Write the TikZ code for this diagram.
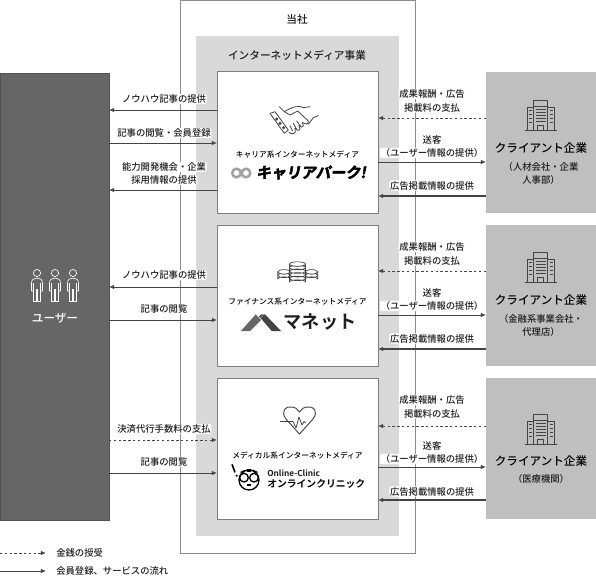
\documentclass[tikz,border=0pt]{standalone}
\usepackage{fontspec}
\setmainfont{Noto Sans CJK JP Medium}[BoldFont=Noto Sans CJK JP Bold]
\newfontfamily\logofont[FakeSlant=0.18,FakeBold=3]{Noto Sans CJK JP Bold}
\newfontfamily\logoplain{Noto Sans CJK JP Bold}
\usetikzlibrary{arrows.meta,calc}
\definecolor{uc}{HTML}{666666}
\definecolor{mc}{HTML}{D9D9D9}
\definecolor{cc}{HTML}{BFBFBF}
\definecolor{lc}{HTML}{444444}
\definecolor{tc}{HTML}{1F1F1F}
\tikzset{
  x=0.75pt,y=-0.75pt,
  box/.style={inner sep=0pt,outer sep=0pt},
  flow/.style={draw=lc,line width=0.7pt,-{Latex[length=3.8pt,width=3.4pt]}},
  money/.style={flow,dash pattern=on 1.8pt off 1.8pt},
  lab/.style={font=\fontsize{7}{9.8}\selectfont,text=tc,fill=white,inner sep=0.5pt,rounded corners=1.5pt,align=center},
  plain/.style={font=\fontsize{7}{9.8}\selectfont,text=tc,inner sep=0pt,align=center},
  ctitle/.style={font=\fontsize{8.7}{11}\selectfont,text=black,inner sep=0pt},
  mtitle/.style={font=\fontsize{5.8}{7}\selectfont,text=black,inner sep=0pt},
  ico/.style={draw=lc,line width=0.6pt,line join=round},
  pics/person/.style={code={
    \draw[white,line width=0.5pt,line join=round] (0,0) circle (3.6);
    \draw[white,line width=0.5pt,line join=round] (-3.8,18)--(-5.5,18)--(-5.5,10) .. controls (-5.5,6.5) and (-3,5) .. (0,5) .. controls (3,5) and (5.5,6.5) .. (5.5,10) -- (5.5,18) -- (3.8,18);
    \draw[white,line width=0.5pt,line join=round] (-3.8,10)--(-3.8,28)--(-0.8,28)--(-0.8,16) (0.8,16)--(0.8,28)--(3.8,28)--(3.8,10);
  }},
  pics/tower/.style={code={
    \draw[ico,line width=0.7pt] (-16,15)--(16,15);
    \draw[ico] (-7,15)--(-7,-15)--(7,-15)--(7,15);
    \draw[ico] (-7,-9)--(7,-9);
    \foreach \yy in {-6,-3,0,3,6} \draw[ico,line width=0.45pt] (-5,\yy)--(5,\yy);
    \draw[ico] (-3,15)--(-3,10)--(3,10)--(3,15);
    \draw[ico] (-7,-8)--(-13.5,-8)--(-13.5,15) (7,-8)--(14,-8)--(14,15);
    \foreach \yy in {-5,-1,3,7} {\draw[ico,line width=0.45pt] (-12,\yy)--(-9,\yy); \draw[ico,line width=0.45pt] (9,\yy)--(12,\yy);}
  }}
}
\newcommand{\coinstack}[4]{% x, bottom y, half width, count
  \foreach \k in {1,...,#4} {
    \draw[ico,fill=white,line width=0.5pt] ({#1-#3},{#2-(\k-1)*3.6}) -- ({#1-#3},{#2-\k*3.6}) arc[start angle=180,end angle=0,x radius=#3,y radius=2.2] -- ({#1+#3},{#2-(\k-1)*3.6}) arc[start angle=0,end angle=-180,x radius=#3,y radius=2.2] -- cycle;
  }
  \draw[ico,fill=white,line width=0.5pt] (#1,{#2-#4*3.6}) ellipse[x radius=#3,y radius=2.2];
}
\begin{document}
\begin{tikzpicture}
\useasboundingbox (0,0) rectangle (596,576);
% frames
\path[draw=uc!75,fill=white,line width=0.7pt] (180,0) coordinate (fa) rectangle (415,553) coordinate (fb);
\node[box,fill=mc,minimum width=203*0.75pt,minimum height=500*0.75pt,anchor=north west] (m) at (196,36) {};
\node[plain,font=\fontsize{8}{10}\selectfont] (tosha) at (297,19) {当社};
\node[plain,font=\fontsize{8}{10}\selectfont] (jigyo) at (297,55) {インターネットメディア事業};
% main boxes
\tikzset{wbox/.style={box,draw=uc!85,fill=white,line width=0.7pt,minimum width=161*0.75pt,minimum height=142*0.75pt,anchor=north west},
 cbox/.style={box,fill=cc,minimum width=110*0.75pt,minimum height=141*0.75pt,anchor=north west}}
\node[box,fill=uc,draw=uc!80!black,line width=0.3pt,minimum width=109*0.75pt,minimum height=447*0.75pt,anchor=north west] (u) at (0,73) {};
\node[wbox] (w1) at (217,71) {};
\node[wbox,minimum height=141*0.75pt] (w2) at (217,225) {};
\node[wbox,minimum height=141*0.75pt] (w3) at (217,378) {};
\node[cbox] (c1) at (486,72) {};
\node[cbox] (c2) at (486,225) {};
\node[cbox] (c3) at (486,378) {};
% left arrows
\draw[flow] (w1.west |- 0,110) -- (u.east |- 0,110);
\draw[flow] (u.east |- 0,143) -- (w1.west |- 0,143);
\draw[flow] (w1.west |- 0,190) -- (u.east |- 0,190);
\draw[flow] (w2.west |- 0,287) -- (u.east |- 0,287);
\draw[flow] (u.east |- 0,320) -- (w2.west |- 0,320);
\draw[money] (u.east |- 0,440) -- (w3.west |- 0,440);
\draw[flow] (u.east |- 0,473) -- (w3.west |- 0,473);
% right arrows
\foreach \w/\c/\a/\b/\d in {w1/c1/118/162/196,w2/c2/271/315/349,w3/c3/426/467/500}{
  \draw[money] (\c.west |- 0,\a) -- (\w.east |- 0,\a);
  \draw[flow] (\w.east |- 0,\b) -- (\c.west |- 0,\b);
  \draw[flow,line width=0.9pt] (\c.west |- 0,\d) -- (\w.east |- 0,\d);
}
% labels left
\node[lab] (a1) at (164,99) {ノウハウ記事の提供};
\node[lab] (a2) at (164,133) {記事の閲覧・会員登録};
\node[lab] (a3) at (164,167) {能力開発機会・企業};
\node[lab] (a3b) at (164,180) {採用情報の提供};
\node[lab] (a4) at (164,275) {ノウハウ記事の提供};
\node[lab] (a5) at (164,309) {記事の閲覧};
\node[lab] (a6) at (164,429) {決済代行手数料の支払};
\node[lab] (a7) at (164,462) {記事の閲覧};
% labels right
\foreach \n/\yy in {1/0,2/153,3/306}{
  \node[lab] (p\n) at (432,{94+\yy}) {成果報酬・広告};
  \node[lab] (pb\n) at (432,{107.5+\yy}) {掲載料の支払};
  \node[lab] (q\n) at (432,{139.5+\yy}) {送客};
  \node[lab] (qb\n) at (432,{153+\yy}) {（ユーザー情報の提供）};
  \node[lab] (r\n) at (432,{185.5+\yy}) {広告掲載情報の提供};
}
% client text
\node[ctitle] (t1) at (541,148) {クライアント企業};
\node[plain] (s1) at (541,173) {（人材会社・企業\\人事部）};
\node[ctitle] (t2) at (541,300) {クライアント企業};
\node[plain] (s2) at (541,325) {（金融系事業会社・\\代理店）};
\node[ctitle] (t3) at (541,461) {クライアント企業};
\node[plain] (s3) at (541,479) {（医療機関）};
\pic at (540.5,115) {tower};
\pic at (540.5,267) {tower};
\pic at (540.5,429) {tower};
% user
\node[ctitle,text=white] (ut) at (55,318) {ユーザー};
\pic at (37,273) {person};
\pic at (55,273) {person};
\pic at (73,273) {person};
% media titles
\node[mtitle] (k1) at (297.5,154.5) {キャリア系インターネットメディア};
\node[mtitle] (k2) at (297.5,302) {ファイナンス系インターネットメディア};
\node[mtitle] (k3) at (297.5,455) {メディカル系インターネットメディア};
% handshake icon
\begin{scope}[shift={(225,95)},x=0.25pt,y=-0.25pt]
  \draw[ico,line cap=round] (163,35)--(178,50) .. controls (195,40) and (215,28) .. (235,38) -- (255,35);
  \draw[ico,line cap=round] (178,50) -- (195,60) -- (218,48) -- (250,78) .. controls (252,90) and (240,88) .. (232,82);
  \draw[ico,line cap=round] (280,62)--(265,68)--(250,88);
  \draw[ico,line cap=round] (135,55)--(150,50)--(190,105)--(178,115)--cycle;
  \draw[ico,line cap=round] (232,82)..controls (240,96) and (230,100) .. (222,92);
  \draw[ico,line cap=round] (222,92)..controls (230,108) and (218,110) .. (210,100);
  \draw[ico,line cap=round] (210,100)..controls (216,118) and (200,120) .. (192,112);
  \draw[ico,line cap=round] (205,85)--(215,103) (195,92)--(203,108) (215,78)--(228,95);
  \foreach \pp in {(155,72),(165,85),(176,98)} \fill[lc] \pp circle (5);
\end{scope}
% logo 1
\draw[cc!85!black,line width=1.9pt] (236.5,173) circle (4.3) (246,173) circle (4.3);
\node[inner sep=0pt,font=\logofont\fontsize{11.2}{12}\selectfont,text=black] (l1) at (311,172.5) {キャリアパーク!};
% coins
\coinstack{284}{279}{6.2}{2}
\coinstack{311.5}{279}{6.2}{2}
\coinstack{297.5}{282}{8}{5}
% logo 2
\fill[uc] (241,331) -- (255.7,314.3) -- (261,320) -- (250,331) -- cycle;
\fill[lc] (261,318.5) -- (265,314.3) -- (281,331) -- (271.7,331) -- cycle;
\fill[uc!70!lc] (261,318.5) -- (265,314.3) -- (261,314.3) -- (258.8,316.7) -- cycle;
\node[inner sep=0pt,font=\logoplain\fontsize{13.6}{14}\selectfont,text=tc] (l2) at (320,322) {マネット};
% heart
\draw[ico,line width=0.7pt,fill=white] (299.5,434) -- (286,419) .. controls (280,411) and (286,406) .. (291,407) .. controls (295,407) and (298,409) .. (299.5,412) .. controls (301,409) and (304,407) .. (308,407) .. controls (313,406) and (319,411) .. (313,419) -- cycle;
\draw[ico,line width=0.6pt,fill=none] (280,421.5) -- (293,421.5) -- (296,428) -- (299,417) -- (302,425) -- (304,421.5) -- (306,423);
% logo 3
\begin{scope}[shift={(225,455)},x=0.25pt,y=-0.25pt]
  \draw[black,line width=1pt] (72,75) circle (30);
  \draw[black,line width=1pt,fill=white] (57,68) circle (13) (87,68) circle (13);
  \draw[black,line width=0.7pt] (46,52) .. controls (60,42) and (85,42) .. (98,52);
  \fill[black] (66,43) rectangle (78,50);
  \draw[black,line width=0.8pt] (65,90)--(79,90);
  \draw[black,line width=1.2pt] (21,28)--(30,52);
  \fill[black] (35,62) circle (3.5);
\end{scope}
\node[inner sep=0pt,anchor=west,font=\bfseries\fontsize{6.2}{7}\selectfont,text=tc] (l3a) at (267,473) {Online-Clinic};
\node[inner sep=0pt,anchor=west,font=\bfseries\fontsize{7.35}{8}\selectfont,text=black] (l3b) at (267,483.5) {オンラインクリニック};
% legend
\coordinate (la) at (0,553);
\coordinate (lb) at (46,553);
\coordinate (lc1) at (0,571);
\coordinate (ld) at (46,571);
\draw[money] (la) -- (lb);
\draw[flow] (lc1) -- (ld);
\node[plain,anchor=west] (e1) at (56,553) {金銭の授受};
\node[plain,anchor=west] (e2) at (56,571) {会員登録、サービスの流れ};
\end{tikzpicture}
\end{document}
